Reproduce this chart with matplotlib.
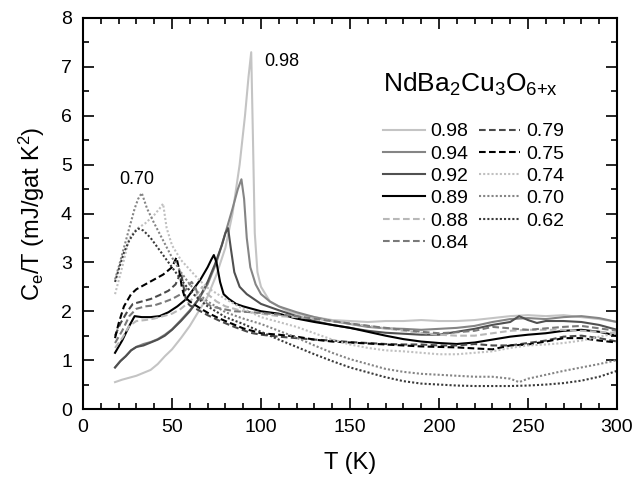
import matplotlib
matplotlib.use("Agg")
import matplotlib.pyplot as plt
from matplotlib.ticker import MultipleLocator

plt.rcParams['font.family'] = ['Liberation Sans', 'DejaVu Sans']
plt.rcParams['mathtext.default'] = 'regular'

# ---- data ----
labels = ["0.98", "0.94", "0.92", "0.89", "0.88", "0.84", "0.79", "0.75", "0.74", "0.70", "0.62"]

T98 = [18, 22, 26, 30, 34, 38, 42, 46, 50, 55, 60, 65, 70, 75, 80, 84, 88, 91, 93, 94.5, 95.5, 96.5, 98, 100, 105, 110, 115, 120, 130, 140, 150, 160, 170, 180, 190, 200, 210, 220, 230, 240, 250, 260, 270, 280, 290, 300]
C98 = [0.55, 0.6, 0.64, 0.68, 0.74, 0.8, 0.92, 1.08, 1.22, 1.45, 1.7, 2.0, 2.3, 2.75, 3.3, 4.0, 5.0, 6.0, 6.8, 7.3, 5.5, 3.6, 2.8, 2.5, 2.2, 2.1, 2.0, 1.95, 1.88, 1.82, 1.8, 1.78, 1.8, 1.8, 1.82, 1.8, 1.8, 1.82, 1.86, 1.9, 1.92, 1.9, 1.92, 1.88, 1.84, 1.78]

T94 = [18, 21, 24, 27, 30, 34, 38, 42, 46, 50, 55, 60, 65, 70, 75, 80, 84, 87, 89, 90.5, 92, 94, 97, 100, 105, 110, 120, 130, 140, 150, 160, 170, 180, 190, 200, 210, 220, 230, 240, 250, 260, 270, 280, 290, 300]
C94 = [0.85, 0.98, 1.08, 1.2, 1.27, 1.33, 1.37, 1.43, 1.52, 1.63, 1.82, 2.02, 2.25, 2.55, 3.0, 3.6, 4.1, 4.5, 4.7, 4.3, 3.5, 2.9, 2.55, 2.35, 2.2, 2.1, 1.98, 1.88, 1.8, 1.74, 1.68, 1.65, 1.64, 1.62, 1.64, 1.66, 1.7, 1.78, 1.84, 1.86, 1.84, 1.88, 1.9, 1.86, 1.78]

T92 = [18, 21, 24, 27, 30, 34, 38, 42, 46, 50, 55, 60, 65, 70, 74, 78, 80, 81.5, 83, 85, 88, 92, 96, 100, 110, 120, 130, 140, 150, 160, 170, 180, 190, 200, 210, 220, 230, 240, 245, 250, 255, 260, 270, 280, 290, 300]
C92 = [0.85, 0.98, 1.08, 1.2, 1.27, 1.3, 1.36, 1.42, 1.5, 1.62, 1.8, 2.0, 2.25, 2.6, 2.95, 3.35, 3.6, 3.7, 3.3, 2.8, 2.5, 2.35, 2.25, 2.15, 2.02, 1.9, 1.8, 1.72, 1.66, 1.6, 1.56, 1.54, 1.52, 1.52, 1.58, 1.64, 1.72, 1.78, 1.9, 1.82, 1.76, 1.8, 1.8, 1.78, 1.72, 1.62]

T89 = [18, 22, 26, 29, 33, 38, 43, 48, 53, 58, 62, 66, 70, 72, 73.5, 75, 77, 79, 82, 86, 90, 95, 100, 110, 120, 130, 140, 150, 160, 170, 180, 190, 200, 210, 220, 230, 240, 250, 260, 270, 280, 290, 300]
C89 = [1.15, 1.4, 1.7, 1.9, 1.88, 1.88, 1.9, 1.98, 2.1, 2.25, 2.45, 2.65, 2.9, 3.05, 3.15, 3.0, 2.6, 2.35, 2.25, 2.15, 2.1, 2.05, 2.0, 1.95, 1.85, 1.78, 1.72, 1.66, 1.58, 1.5, 1.43, 1.38, 1.35, 1.33, 1.36, 1.42, 1.48, 1.52, 1.55, 1.6, 1.62, 1.58, 1.5]

T88 = [18, 22, 26, 30, 35, 40, 45, 50, 55, 60, 64, 67, 70, 75, 80, 90, 100, 110, 120, 130, 140, 150, 160, 170, 180, 190, 200, 210, 220, 230, 240, 250, 260, 270, 280, 290, 300]
C88 = [1.25, 1.45, 1.7, 1.8, 1.82, 1.85, 1.9, 1.95, 2.05, 2.2, 2.35, 2.5, 2.35, 2.2, 2.1, 2.0, 1.95, 1.9, 1.88, 1.85, 1.8, 1.75, 1.7, 1.65, 1.6, 1.56, 1.52, 1.5, 1.5, 1.55, 1.6, 1.62, 1.62, 1.62, 1.6, 1.58, 1.55]

T84 = [18, 22, 26, 30, 35, 40, 45, 50, 55, 58, 61, 63, 65, 68, 72, 78, 85, 95, 105, 120, 135, 150, 165, 180, 190, 200, 210, 220, 230, 240, 250, 260, 270, 280, 290, 300]
C84 = [1.35, 1.6, 1.9, 2.05, 2.1, 2.12, 2.18, 2.25, 2.35, 2.45, 2.6, 2.5, 2.3, 2.2, 2.1, 2.05, 2.0, 1.98, 1.95, 1.9, 1.82, 1.75, 1.68, 1.62, 1.58, 1.55, 1.57, 1.6, 1.68, 1.65, 1.62, 1.65, 1.68, 1.7, 1.65, 1.6]

T79 = [18, 21, 25, 28, 33, 38, 43, 48, 52, 55, 56.5, 58, 60, 65, 70, 77, 85, 94, 100, 110, 120, 130, 140, 150, 160, 170, 180, 190, 200, 210, 220, 230, 240, 250, 260, 270, 280, 290, 300]
C79 = [1.5, 1.75, 2.0, 2.15, 2.2, 2.25, 2.33, 2.42, 2.55, 2.8, 2.5, 2.2, 2.12, 2.02, 1.92, 1.8, 1.68, 1.56, 1.52, 1.48, 1.45, 1.42, 1.4, 1.37, 1.35, 1.33, 1.32, 1.32, 1.3, 1.3, 1.33, 1.3, 1.3, 1.35, 1.4, 1.48, 1.5, 1.45, 1.38]

T75 = [18, 20, 23, 27, 30, 35, 40, 45, 50, 52.5, 54, 55.5, 57, 60, 65, 70, 75, 80, 90, 100, 110, 120, 130, 140, 150, 160, 170, 180, 190, 200, 210, 220, 230, 240, 250, 260, 270, 280, 290, 300]
C75 = [1.45, 1.75, 2.1, 2.35, 2.45, 2.55, 2.65, 2.75, 2.9, 3.1, 2.85, 2.5, 2.3, 2.2, 2.08, 1.97, 1.88, 1.8, 1.65, 1.55, 1.52, 1.48, 1.42, 1.38, 1.36, 1.34, 1.32, 1.3, 1.28, 1.27, 1.26, 1.24, 1.22, 1.3, 1.32, 1.38, 1.45, 1.45, 1.4, 1.36]

T74 = [18, 22, 26, 30, 35, 40, 43, 45, 47, 50, 55, 60, 65, 70, 80, 90, 100, 110, 120, 130, 140, 150, 160, 170, 180, 190, 200, 210, 220, 230, 240, 250, 260, 270, 280, 290, 300]
C74 = [2.35, 2.9, 3.5, 3.68, 3.8, 3.97, 4.1, 4.2, 3.7, 3.35, 3.05, 2.85, 2.65, 2.48, 2.25, 2.05, 1.88, 1.78, 1.68, 1.55, 1.42, 1.32, 1.25, 1.2, 1.18, 1.15, 1.12, 1.12, 1.15, 1.18, 1.25, 1.3, 1.32, 1.35, 1.4, 1.48, 1.55]

T70 = [18, 20, 23, 26, 29, 31, 33, 36, 40, 45, 50, 55, 60, 65, 70, 80, 90, 100, 110, 120, 130, 140, 150, 160, 170, 180, 190, 200, 210, 220, 230, 240, 245, 250, 260, 270, 280, 290, 300]
C70 = [2.65, 2.9, 3.3, 3.7, 4.1, 4.3, 4.42, 4.1, 3.8, 3.45, 3.1, 2.8, 2.55, 2.35, 2.2, 1.98, 1.85, 1.74, 1.6, 1.46, 1.3, 1.15, 1.02, 0.92, 0.82, 0.76, 0.72, 0.7, 0.68, 0.66, 0.66, 0.62, 0.55, 0.62, 0.7, 0.78, 0.85, 0.92, 1.0]

T62 = [18, 20, 23, 26, 29, 31, 34, 38, 42, 46, 50, 55, 60, 65, 70, 80, 90, 100, 110, 120, 130, 140, 150, 160, 170, 180, 190, 200, 210, 220, 230, 240, 250, 260, 270, 280, 290, 300]
C62 = [2.6, 2.85, 3.2, 3.45, 3.62, 3.69, 3.65, 3.5, 3.3, 3.1, 2.9, 2.65, 2.42, 2.25, 2.1, 1.88, 1.74, 1.58, 1.42, 1.27, 1.12, 0.98, 0.85, 0.75, 0.65, 0.57, 0.52, 0.5, 0.48, 0.47, 0.47, 0.47, 0.48, 0.5, 0.53, 0.58, 0.66, 0.78]

series_T = [T98, T94, T92, T89, T88, T84, T79, T75, T74, T70, T62]
series_C = [C98, C94, C92, C89, C88, C84, C79, C75, C74, C70, C62]

colors = ["#c4c4c4", "#858585", "#505050", "#000000",
          "#b8b8b8", "#7a7a7a", "#4a4a4a", "#000000",
          "#c0c0c0", "#858585", "#3a3a3a"]
dash = (0, (3.2, 1.6))
dot = (0, (1, 1))
styles = ["-", "-", "-", "-", dash, dash, dash, dash, dot, dot, dot]

# ---- figure ----
fig = plt.figure(figsize=(6.35, 4.84), dpi=100)
ax = fig.add_axes([83/635, 1-409/484, (617-83)/635, (409-18)/484])

for T, C, col, ls, lab in zip(series_T, series_C, colors, styles, labels):
    ax.plot(T, C, color=col, linestyle=ls, linewidth=1.5, label=lab)

ax.set_xlim(0, 300)
ax.set_ylim(0, 8)
ax.xaxis.set_major_locator(MultipleLocator(50))
ax.xaxis.set_minor_locator(MultipleLocator(10))
ax.yaxis.set_major_locator(MultipleLocator(1))
ax.yaxis.set_minor_locator(MultipleLocator(0.5))
ax.tick_params(which='both', direction='in', top=True, right=True, width=1.2, labelsize=14)
ax.tick_params(axis='x', which='major', length=8, pad=7)
ax.tick_params(axis='y', which='major', length=8, pad=8)
ax.tick_params(which='minor', length=4.5)
for s in ax.spines.values():
    s.set_linewidth(1.5)

ax.set_xlabel("T (K)", fontsize=17, labelpad=12)
ax.set_ylabel(r"C$_e$/T (mJ/gat K$^2$)", fontsize=17, labelpad=10)

ax.text(102, 7.1, "0.98", fontsize=13, ha='left', va='center')
ax.text(20.5, 4.7, "0.70", fontsize=13, ha='left', va='center')

ax.text(0.562, 0.83, r"NdBa$_2$Cu$_3$O$_{6{+}x}$", transform=ax.transAxes,
        fontsize=19, ha='left', va='center')

leg = ax.legend(ncol=2, loc='upper left', bbox_to_anchor=(0.562, 0.732),
                frameon=False, fontsize=14, handlelength=2.15, handletextpad=0.3,
                columnspacing=0.5, labelspacing=0.24, borderaxespad=0, borderpad=0)

fig.savefig("out.png", dpi=100)
